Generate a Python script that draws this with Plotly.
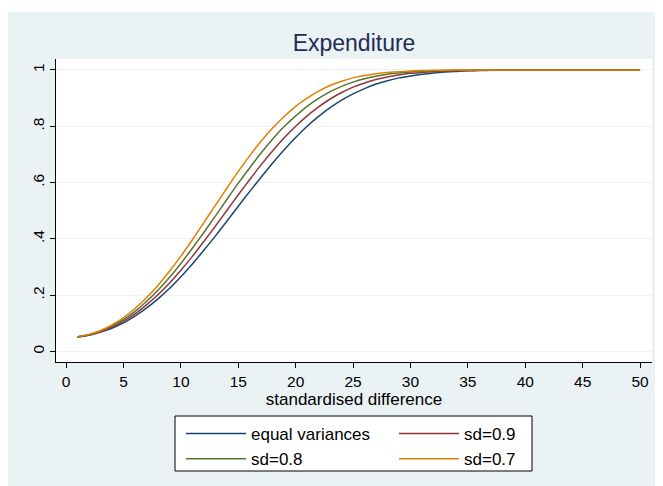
import plotly.graph_objects as go

# standardised difference (x) and power for each scenario
x_vals = list(range(1, 51))

equal_variances = [0.052, 0.058, 0.069, 0.083, 0.102, 0.126, 0.154, 0.187, 0.224, 0.266,
                   0.311, 0.360, 0.410, 0.463, 0.516, 0.569, 0.620, 0.670, 0.717, 0.760,
                   0.800, 0.835, 0.866, 0.893, 0.915, 0.934, 0.950, 0.962, 0.972, 0.979,
                   0.985, 0.989, 0.993, 0.995, 0.997, 0.998, 0.999, 0.999, 1.0, 1.0,
                   1.0, 1.0, 1.0, 1.0, 1.0, 1.0, 1.0, 1.0, 1.0, 1.0]

sd_09 = [0.052, 0.059, 0.070, 0.087, 0.108, 0.134, 0.166, 0.202, 0.243, 0.289,
         0.338, 0.391, 0.445, 0.501, 0.557, 0.611, 0.664, 0.713, 0.759, 0.800,
         0.837, 0.869, 0.897, 0.920, 0.939, 0.954, 0.966, 0.975, 0.982, 0.988,
         0.991, 0.994, 0.996, 0.997, 0.998, 0.999, 0.999, 1.0, 1.0, 1.0,
         1.0, 1.0, 1.0, 1.0, 1.0, 1.0, 1.0, 1.0, 1.0, 1.0]

sd_08 = [0.053, 0.060, 0.073, 0.091, 0.114, 0.143, 0.178, 0.218, 0.263, 0.313,
         0.367, 0.423, 0.481, 0.540, 0.598, 0.653, 0.706, 0.755, 0.799, 0.837,
         0.871, 0.899, 0.923, 0.942, 0.957, 0.969, 0.978, 0.985, 0.989, 0.993,
         0.995, 0.997, 0.998, 0.999, 0.999, 1.0, 1.0, 1.0, 1.0, 1.0,
         1.0, 1.0, 1.0, 1.0, 1.0, 1.0, 1.0, 1.0, 1.0, 1.0]

sd_07 = [0.053, 0.061, 0.075, 0.095, 0.121, 0.153, 0.191, 0.235, 0.285, 0.339,
         0.397, 0.458, 0.519, 0.580, 0.640, 0.696, 0.748, 0.794, 0.835, 0.871,
         0.900, 0.925, 0.945, 0.960, 0.972, 0.980, 0.987, 0.991, 0.994, 0.996,
         0.998, 0.999, 0.999, 1.0, 1.0, 1.0, 1.0, 1.0, 1.0, 1.0,
         1.0, 1.0, 1.0, 1.0, 1.0, 1.0, 1.0, 1.0, 1.0, 1.0]

series_names = ["equal variances", "sd=0.9", "sd=0.8", "sd=0.7"]
series_values = [equal_variances, sd_09, sd_08, sd_07]
series_colors = ["#1a476f", "#90353b", "#55752f", "#e37e00"]
series_legends = ["legend", "legend2", "legend", "legend2"]

x_ticks = [0, 5, 10, 15, 20, 25, 30, 35, 40, 45, 50]
y_ticks = [0, 0.2, 0.4, 0.6, 0.8, 1.0]
y_ticktext = ["0", ".2", ".4", ".6", ".8", "1"]

FONT = "Liberation Sans, Arial, sans-serif"
BG = "#eaf2f3"

fig = go.Figure()
for name, vals, col, lg in zip(series_names, series_values, series_colors, series_legends):
    fig.add_trace(go.Scatter(x=x_vals, y=vals, mode="lines", name=name,
                             line=dict(color=col, width=1.5, shape="spline", smoothing=0.6),
                             legend=lg))

W, H = 663, 486
L, R, T, B = 48, 19, 51, 132
pw, ph = W - L - R, H - T - B

def px(xp):
    return (xp - L) / pw

def py(yp):
    return (H - B - yp) / ph

leg_common = dict(xanchor="left", yanchor="top", bgcolor="rgba(0,0,0,0)",
                  borderwidth=0, itemwidth=60, tracegroupgap=0,
                  font=dict(size=17, family=FONT, color="black"))

fig.update_layout(
    width=W, height=H,
    margin=dict(l=L, r=R, t=T, b=B),
    paper_bgcolor="white",
    plot_bgcolor="white",
    font=dict(family=FONT, color="black", size=15),
    title=dict(text="Expenditure", x=0.5, xref="paper", xanchor="center",
               y=1 - 35 / H, yanchor="middle",
               font=dict(size=23, color="#1e2d53", family=FONT)),
    showlegend=True,
    legend=dict(x=px(173), y=py(408), **leg_common),
    legend2=dict(x=px(386), y=py(408), **leg_common),
    shapes=[
        dict(type="rect", xref="paper", yref="paper", layer="below",
             x0=px(-2), x1=px(W + 2), y0=py(4), y1=py(H + 2),
             fillcolor=BG, line=dict(width=0)),
        dict(type="rect", xref="paper", yref="paper", layer="below",
             x0=0, x1=1, y0=0, y1=1, fillcolor="white", line=dict(width=0)),
        dict(type="rect", xref="paper", yref="paper", layer="below",
             x0=px(167), x1=px(524), y0=py(408), y1=py(463),
             fillcolor="white", line=dict(color="black", width=1)),
    ],
)

fig.update_xaxes(
    range=[-0.88, 51.04], tickmode="array", tickvals=x_ticks,
    ticks="outside", ticklen=5, tickcolor="black", tickwidth=1,
    showline=True, linecolor="black", linewidth=1, mirror=False,
    showgrid=False, zeroline=False,
    tickfont=dict(size=15.5, family=FONT, color="black"),
    title=dict(text="standardised difference", standoff=0,
               font=dict(size=17, family=FONT, color="black")),
)
fig.update_yaxes(
    range=[-0.037, 1.039], tickmode="array", tickvals=y_ticks, ticktext=y_ticktext,
    tickangle=-90, ticks="outside", ticklen=5, tickcolor="black", tickwidth=1,
    showline=True, linecolor="black", linewidth=1,
    showgrid=True, gridcolor=BG, gridwidth=1, zeroline=False,
    tickfont=dict(size=15.5, family=FONT, color="black"),
)

fig.write_html("out.html")
